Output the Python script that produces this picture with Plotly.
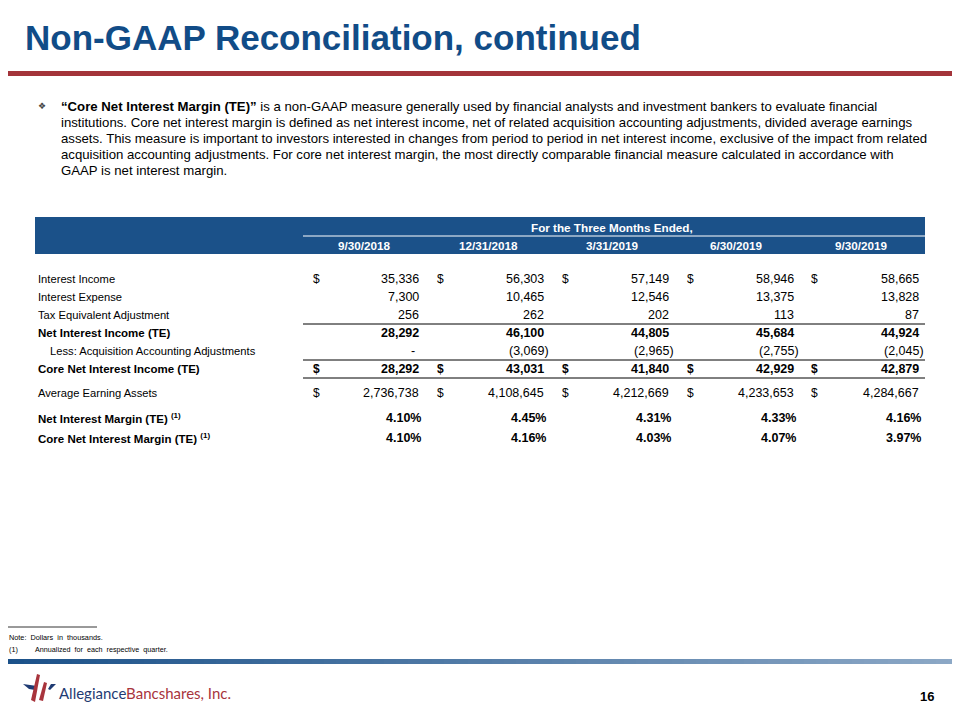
import plotly.graph_objects as go

# ---------------- data ----------------
title_text = "Non-GAAP Reconciliation, continued"
body_lines = [
    "<b>“Core Net Interest Margin (TE)”</b> is a non-GAAP measure generally used by financial analysts and investment bankers to evaluate financial",
    "institutions. Core net interest margin is defined as net interest income, net of related acquisition accounting adjustments, divided average earnings",
    "assets. This measure is important to investors interested in changes from period to period in net interest income, exclusive of the impact from related",
    "acquisition accounting adjustments. For core net interest margin, the most directly comparable financial measure calculated in accordance with",
    "GAAP is net interest margin.",
]
header_group = "For the Three Months Ended,"
periods = ["9/30/2018", "12/31/2018", "3/31/2019", "6/30/2019", "9/30/2019"]

interest_income = [35336, 56303, 57149, 58946, 58665]
interest_expense = [7300, 10465, 12546, 13375, 13828]
te_adjustment = [256, 262, 202, 113, 87]
net_interest_income = [28292, 46100, 44805, 45684, 44924]
acq_adjustments = [0, -3069, -2965, -2755, -2045]
core_net_interest_income = [28292, 43031, 41840, 42929, 42879]
avg_earning_assets = [2736738, 4108645, 4212669, 4233653, 4284667]
net_interest_margin = [4.10, 4.45, 4.31, 4.33, 4.16]
core_net_interest_margin = [4.10, 4.16, 4.03, 4.07, 3.97]

footnote_note = "Note:  Dollars  in  thousands."
footnote_1_mark = "(1)"
footnote_1 = "Annualized  for  each  respective  quarter."
page_number = "16"

# ---------------- styling / layout ----------------
# The page body has an 8px margin, so the figure is 952x712 and its axes
# run from 8 so that axis units equal window pixels.
OFF = 8
W, H = 960, 720
NAVY = "#114C87"
BAND = "#1B5189"
RED = "#A3343A"
SANS = "Liberation Sans, Arial, sans-serif"

dollar_x = [316, 440, 565, 690, 814]
value_right = [420, 545, 670, 795, 920]
header_center = [364, 488, 612, 736, 861]
label_x = 37

# rows: (label, values, kind, bold, dollar, indent, y)
rows = [
    ("Interest Income", interest_income, "num", False, True, 0, 279),
    ("Interest Expense", interest_expense, "num", False, False, 0, 297),
    ("Tax Equivalent Adjustment", te_adjustment, "num", False, False, 0, 315),
    ("Net Interest Income (TE)", net_interest_income, "num", True, False, 0, 333),
    ("Less: Acquisition Accounting Adjustments", acq_adjustments, "num", False, False, 12, 351),
    ("Core Net Interest Income (TE)", core_net_interest_income, "num", True, True, 0, 369),
    ("Average Earning Assets", avg_earning_assets, "num", False, True, 0, 393),
    ("Net Interest Margin (TE) <sup>(1)</sup>", net_interest_margin, "pct", True, False, 0, 418),
    ("Core Net Interest Margin (TE) <sup>(1)</sup>", core_net_interest_margin, "pct", True, False, 0, 438),
]
rule_after_y = [324, 360, 378]

fig = go.Figure()
fig.add_trace(go.Scatter(x=[OFF, W], y=[OFF, H], mode="markers", marker=dict(opacity=0), hoverinfo="skip"))

ann = []
shapes = []

def text(x, y, s, size, color="#000", family=SANS, xanchor="left", yanchor="middle"):
    ann.append(dict(x=x, y=y, xref="x", yref="y", text=s, showarrow=False,
                    xanchor=xanchor, yanchor=yanchor, borderpad=0,
                    font=dict(size=size, color=color, family=family)))

# title + red rule
text(24, 37, "<b>%s</b>" % title_text, 35, NAVY, SANS)
shapes.append(dict(type="rect", x0=0, x1=W, y0=71, y1=76, fillcolor=RED, line=dict(width=0), layer="above"))

# bullet + body
text(37, 106, "❖", 9, "#444", "DejaVu Sans")
for i, line in enumerate(body_lines):
    text(60, 106 + 16 * i, line, 13.2, "#000", SANS)

# header band
shapes.append(dict(type="rect", x0=35, x1=925, y0=217, y1=254, fillcolor=BAND, line=dict(width=0)))
shapes.append(dict(type="line", x0=303, x1=925, y0=236, y1=236, line=dict(color="white", width=1)))
text(612, 227, "<b>%s</b>" % header_group, 11.7, "white", SANS, xanchor="center")
for cx, p in zip(header_center, periods):
    text(cx, 245, "<b>%s</b>" % p, 11.7, "white", SANS, xanchor="center")

# table body
for label, vals, kind, bold, dollar, indent, y in rows:
    lab = "<b>%s</b>" % label if bold else label
    text(label_x + indent, y, lab, 11.5 if bold else 11.2, "#000", SANS)
    for j, v in enumerate(vals):
        r = value_right[j]
        if kind == "pct":
            s, xr = "%.2f%%" % v, r + 2
        elif v < 0:
            s, xr = "(%s)" % format(-v, ","), r + 5
        elif v == 0:
            s, xr = "-", r - 4
        else:
            s, xr = format(v, ","), r
        if bold:
            s = "<b>%s</b>" % s
        text(xr, y, s, 12.5, "#000", SANS, xanchor="right")
        if dollar:
            text(dollar_x[j], y, "<b>$</b>" if bold else "$", 12, "#000", SANS, xanchor="center")

for yy in rule_after_y:
    shapes.append(dict(type="line", x0=303, x1=925, y0=yy, y1=yy, line=dict(color="#000", width=1)))

# footnotes
shapes.append(dict(type="line", x0=7, x1=97, y0=627, y1=627, line=dict(color="#000", width=0.8)))
text(8, 637, footnote_note, 7.3, "#000", SANS)
text(8, 649, footnote_1_mark, 7.3, "#000", SANS)
text(34, 649, footnote_1, 7.2, "#000", SANS)

# gradient bar
n = 80
c0 = (0x1B, 0x51, 0x89)
c1 = (0x8C, 0xA8, 0xC6)
for k in range(n):
    t = k / (n - 1)
    col = "rgb(%d,%d,%d)" % tuple(round(a + (b - a) * t) for a, b in zip(c0, c1))
    shapes.append(dict(type="rect", x0=W * k / n, x1=W * (k + 1) / n + 0.5, y0=659, y1=664,
                       fillcolor=col, line=dict(width=0)))

# logo mark
LOGO_NAVY = "#1F3B73"
LOGO_RED = "#A8343C"
shapes.append(dict(type="path", path="M 23,684 L 37,686 L 35,690 L 29,689 Z", fillcolor=LOGO_NAVY, line=dict(width=0)))
shapes.append(dict(type="path", path="M 37,674 L 40,675 L 35,702 L 31,700 Z", fillcolor=LOGO_RED, line=dict(width=0)))
shapes.append(dict(type="path", path="M 44,682 L 47,683 L 43,701 L 39,700 Z", fillcolor=LOGO_RED, line=dict(width=0)))
shapes.append(dict(type="path", path="M 51,684 L 56,684 L 50,690 L 48,689 Z", fillcolor=LOGO_NAVY, line=dict(width=0)))
text(58, 693, "<span style='color:%s'>Allegiance</span><span style='color:%s'>Bancshares, Inc.</span>" % (LOGO_NAVY, LOGO_RED),
     15, LOGO_NAVY, "Lato, Open Sans, sans-serif")

# page number
text(935, 696, "<b>%s</b>" % page_number, 13, "#000", SANS, xanchor="right")

fig.update_layout(
    width=W - OFF, height=H - OFF, margin=dict(l=0, r=0, t=0, b=0),
    paper_bgcolor="white", plot_bgcolor="white", showlegend=False,
    xaxis=dict(range=[OFF, W], visible=False, fixedrange=True),
    yaxis=dict(range=[H, OFF], visible=False, fixedrange=True),
    annotations=ann, shapes=shapes,
)
fig.write_html("out.html")
